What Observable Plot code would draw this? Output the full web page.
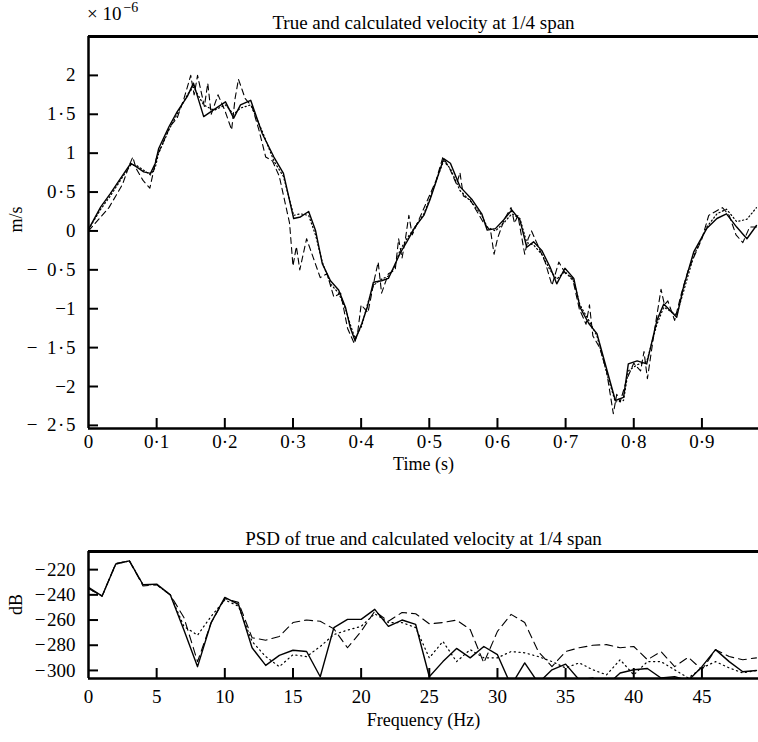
<!DOCTYPE html>
<html><head><meta charset="utf-8">
<script src="https://cdn.jsdelivr.net/npm/d3@7"></script>
<script src="https://cdn.jsdelivr.net/npm/@observablehq/plot@0.6"></script>
<style>
body{margin:0;background:#fff;}
#wrap{position:relative;width:758px;height:742px;overflow:hidden;font-family:"Liberation Serif","DejaVu Serif",serif;color:#000;background:#fff;}
.abs{position:absolute;white-space:nowrap;}
svg{display:block;}
</style></head><body><div id="wrap"></div>
<script>
// ---------- Top panel: velocity (x 1e-6 m/s) ----------
const timeTicks = [0, 0.1, 0.2, 0.3, 0.4, 0.5, 0.6, 0.7, 0.8, 0.9];
const timeTickLabels = ["0", "0·1", "0·2", "0·3", "0·4", "0·5", "0·6", "0·7", "0·8", "0·9"];
const velTicks = [2, 1.5, 1, 0.5, 0, -0.5, -1, -1.5, -2, -2.5];
const velTickLabels = ["2", "1\u200A·\u200A5", "1", "0\u200A·\u200A5", "0", "−\u20020\u200A·\u200A5", "−1", "−\u20021\u200A·\u200A5", "−2", "−\u20022\u200A·\u200A5"];
const timeDomain = [0, 0.983];
const velDomain = [-2.54, 2.5];

const trueT = [0, 0.018, 0.032, 0.052, 0.062, 0.071, 0.081, 0.091, 0.098, 0.103, 0.118, 0.130, 0.145, 0.154, 0.169, 0.184, 0.201, 0.213, 0.223, 0.238, 0.255, 0.272, 0.286, 0.301, 0.311, 0.323, 0.333, 0.343, 0.355, 0.367, 0.377, 0.384, 0.391, 0.401, 0.409, 0.418, 0.430, 0.440, 0.448, 0.457, 0.467, 0.479, 0.492, 0.501, 0.509, 0.521, 0.531, 0.545, 0.563, 0.577, 0.585, 0.597, 0.609, 0.621, 0.633, 0.643, 0.653, 0.665, 0.677, 0.687, 0.699, 0.712, 0.721, 0.734, 0.746, 0.761, 0.773, 0.785, 0.792, 0.805, 0.819, 0.834, 0.844, 0.863, 0.873, 0.888, 0.907, 0.922, 0.936, 0.951, 0.966, 0.980];
const trueV = [0.02, 0.31, 0.48, 0.74, 0.87, 0.82, 0.76, 0.74, 0.87, 1.06, 1.34, 1.53, 1.73, 1.90, 1.47, 1.56, 1.66, 1.45, 1.62, 1.68, 1.25, 0.95, 0.74, 0.16, 0.18, 0.25, 0.01, -0.42, -0.64, -0.76, -0.98, -1.24, -1.41, -1.19, -0.98, -0.66, -0.64, -0.61, -0.46, -0.29, -0.14, 0.05, 0.20, 0.40, 0.61, 0.93, 0.87, 0.57, 0.40, 0.22, 0.01, 0.03, 0.14, 0.27, 0.14, -0.21, -0.14, -0.25, -0.46, -0.68, -0.48, -0.61, -0.98, -1.19, -1.32, -1.80, -2.18, -2.14, -1.71, -1.67, -1.71, -1.15, -0.94, -1.11, -0.72, -0.27, 0.03, 0.16, 0.22, 0.05, -0.10, 0.07];

const calcAT = [0, 0.01, 0.02, 0.03, 0.04, 0.05, 0.06, 0.065, 0.07, 0.08, 0.09, 0.095, 0.10, 0.11, 0.12, 0.13, 0.14, 0.15, 0.155, 0.16, 0.17, 0.175, 0.18, 0.19, 0.20, 0.21, 0.215, 0.22, 0.23, 0.24, 0.25, 0.26, 0.27, 0.28, 0.29, 0.295, 0.30, 0.305, 0.31, 0.315, 0.32, 0.33, 0.34, 0.35, 0.36, 0.37, 0.38, 0.385, 0.39, 0.395, 0.40, 0.41, 0.42, 0.425, 0.43, 0.44, 0.45, 0.455, 0.46, 0.465, 0.47, 0.475, 0.48, 0.49, 0.50, 0.51, 0.52, 0.53, 0.54, 0.545, 0.55, 0.56, 0.57, 0.58, 0.59, 0.595, 0.60, 0.61, 0.62, 0.625, 0.63, 0.64, 0.645, 0.65, 0.66, 0.67, 0.68, 0.69, 0.70, 0.71, 0.72, 0.73, 0.735, 0.74, 0.75, 0.76, 0.77, 0.775, 0.78, 0.79, 0.80, 0.81, 0.815, 0.82, 0.83, 0.84, 0.845, 0.85, 0.86, 0.87, 0.88, 0.89, 0.90, 0.91, 0.92, 0.93, 0.94, 0.95, 0.96, 0.97, 0.98];
const calcAV = [0, 0.1, 0.2, 0.3, 0.45, 0.6, 0.85, 0.95, 0.8, 0.65, 0.55, 0.75, 0.95, 1.15, 1.35, 1.45, 1.7, 2.0, 1.75, 2.0, 1.6, 1.9, 1.5, 1.75, 1.55, 1.3, 1.7, 1.95, 1.7, 1.6, 1.3, 0.95, 0.9, 0.7, 0.3, 0.1, -0.45, -0.2, -0.5, -0.3, -0.1, -0.35, -0.6, -0.55, -0.85, -0.8, -1.25, -1.35, -1.45, -1.3, -0.95, -1.05, -0.6, -0.4, -0.8, -0.55, -0.5, -0.1, -0.35, -0.1, 0.2, -0.05, 0.05, 0.25, 0.45, 0.65, 0.95, 0.8, 0.6, 0.75, 0.45, 0.4, 0.25, 0.1, 0.0, -0.3, -0.1, 0.15, 0.3, 0.1, 0.2, -0.3, -0.1, 0.0, -0.2, -0.4, -0.7, -0.4, -0.55, -0.6, -1.0, -1.2, -0.95, -1.35, -1.5, -1.8, -2.35, -2.1, -2.2, -1.9, -1.7, -1.8, -1.55, -1.9, -1.3, -0.75, -0.95, -0.9, -1.15, -0.8, -0.5, -0.3, -0.1, 0.2, 0.25, 0.3, 0.2, -0.05, -0.15, 0.05, 0.05];

const calcBT = [0, 0.018, 0.032, 0.052, 0.062, 0.071, 0.081, 0.091, 0.098, 0.103, 0.118, 0.130, 0.145, 0.154, 0.169, 0.184, 0.201, 0.213, 0.223, 0.238, 0.255, 0.272, 0.286, 0.301, 0.311, 0.323, 0.333, 0.343, 0.355, 0.367, 0.377, 0.384, 0.391, 0.401, 0.409, 0.418, 0.430, 0.440, 0.448, 0.457, 0.467, 0.479, 0.492, 0.501, 0.509, 0.521, 0.531, 0.545, 0.563, 0.577, 0.585, 0.597, 0.609, 0.621, 0.633, 0.643, 0.653, 0.665, 0.677, 0.687, 0.699, 0.712, 0.721, 0.734, 0.746, 0.761, 0.773, 0.785, 0.792, 0.805, 0.819, 0.834, 0.844, 0.863, 0.873, 0.888, 0.907, 0.922, 0.936, 0.951, 0.966, 0.980];
const calcBV = [0.02, 0.28, 0.45, 0.72, 0.85, 0.84, 0.78, 0.72, 0.82, 1.0, 1.30, 1.50, 1.75, 1.85, 1.62, 1.55, 1.62, 1.50, 1.58, 1.62, 1.28, 0.90, 0.70, 0.20, 0.22, 0.20, -0.05, -0.40, -0.68, -0.80, -1.00, -1.20, -1.38, -1.22, -0.95, -0.70, -0.62, -0.58, -0.48, -0.25, -0.10, 0.05, 0.22, 0.42, 0.62, 0.90, 0.80, 0.52, 0.36, 0.20, 0.05, 0.00, 0.10, 0.22, 0.16, -0.15, -0.18, -0.30, -0.50, -0.62, -0.52, -0.65, -0.95, -1.15, -1.35, -1.85, -2.20, -2.18, -1.80, -1.72, -1.68, -1.20, -0.98, -1.08, -0.78, -0.32, 0.05, 0.22, 0.28, 0.12, 0.15, 0.30];

// ---------- Bottom panel: PSD (dB) ----------
const freqTicks = [0, 5, 10, 15, 20, 25, 30, 35, 40, 45];
const dbTicks = [-220, -240, -260, -280, -300];
const dbTickLabels = ["−\u200A220", "−\u200A240", "−\u200A260", "−\u200A280", "−\u200A300"];
const freqDomain = [0, 49.15];
const dbDomain = [-306.4, -205.6];
const freqHz = [0,1,2,3,4,5,6,7,8,9,10,11,12,13,14,15,16,17,18,19,20,21,22,23,24,25,26,27,28,29,30,31,32,33,34,35,36,37,38,39,40,41,42,43,44,45,46,47,48,49];
const psdTrue = [-234, -241, -215.5, -213, -232, -231.5, -240, -268, -297, -262, -242, -247.5, -282, -296, -288, -284, -285, -305, -266, -259.5, -259.5, -251.5, -265, -260, -263.5, -305, -293, -282.5, -290, -281, -287.5, -312, -294, -310, -299.5, -295, -307.5, -306, -312, -302, -299.5, -298.5, -306, -305, -308, -297, -283.5, -293, -301, -300];
const psdCalcA = [-235, -241, -215, -213, -233, -232, -240, -258, -293, -262, -243, -246, -274, -276, -273, -262, -260, -261, -267, -282, -269, -253, -261, -254, -255, -263, -262, -260, -267.5, -294, -269, -255.5, -262, -285, -297, -285, -282, -280, -279.5, -282, -281, -291.5, -285, -297, -289.5, -299.5, -283.5, -289, -291.5, -290];
const psdCalcB = [-235, -241, -215.5, -213, -232, -232, -240, -265, -272, -257, -244, -249, -277, -289, -297, -287.5, -289, -281, -271.5, -268, -265, -255, -262, -262, -266, -290, -277, -293, -283.5, -290, -290, -285, -286, -289, -293, -298, -294, -299.5, -303.5, -291.5, -303.5, -293, -293, -299.5, -306, -298, -293, -298, -302, -300];

const FONT = '"Liberation Serif", "DejaVu Serif", serif';
const TICK_FS = 19, LABEL_FS = 18, TITLE_FS = 19;
const wrap = document.getElementById("wrap");

function rows(xs, ys) { return xs.map((x, i) => ({x, y: ys[i]})); }

// Top plot
const W = 758, TOP_H = 475, TOP_ML = 88, TOP_MT = 36, TOP_MB = 47;
const topPlotH = TOP_H - TOP_MT - TOP_MB;
const topPlotW = W - TOP_ML;
const topChart = Plot.plot({
  width: W, height: TOP_H,
  marginLeft: TOP_ML, marginRight: 0, marginTop: TOP_MT, marginBottom: TOP_MB,
  style: {fontFamily: FONT, fontSize: TICK_FS + "px", background: "white", color: "black", overflow: "visible"},
  x: {domain: timeDomain, label: null},
  y: {domain: velDomain, label: null},
  marks: [
    Plot.line(rows(calcBT, calcBV), {x: "x", y: "y", stroke: "black", strokeWidth: 1.2, strokeDasharray: "1.2,2.6", clip: true}),
    Plot.line(rows(calcAT, calcAV), {x: "x", y: "y", stroke: "black", strokeWidth: 1.1, strokeDasharray: "6,4", clip: true}),
    Plot.line(rows(trueT, trueV), {x: "x", y: "y", stroke: "black", strokeWidth: 1.4, clip: true}),
    Plot.tickY(velTicks, {y: d => d, stroke: "black", strokeWidth: 2, insetRight: topPlotW - 10}),
    Plot.tickX(timeTicks.slice(1), {x: d => d, stroke: "black", strokeWidth: 2, insetTop: topPlotH - 10}),
    Plot.ruleX([timeDomain[0]], {stroke: "black", strokeWidth: 2.5}),
    Plot.ruleY([velDomain[0]], {stroke: "black", strokeWidth: 2.5}),
    Plot.ruleY([velDomain[1]], {stroke: "black", strokeWidth: 2.8}),
    Plot.axisY(velTicks, {tickSize: 0, tickPadding: 13, label: null, fontSize: TICK_FS, tickFormat: d => velTickLabels[velTicks.indexOf(d)]}),
    Plot.axisX(timeTicks, {tickSize: 0, tickPadding: 6, label: null, fontSize: TICK_FS, tickFormat: d => timeTickLabels[timeTicks.indexOf(d)]}),
    Plot.text(["True and calculated velocity at 1/4 span"], {frameAnchor: "top", dy: -21, fontSize: TITLE_FS}),
    Plot.text(["Time (s)"], {frameAnchor: "bottom", dy: 41, fontSize: LABEL_FS}),
    Plot.text(["m/s"], {frameAnchor: "left", dx: -72, rotate: -90, fontSize: LABEL_FS})
  ]
});
topChart.style.position = "absolute";
topChart.style.left = "0px";
topChart.style.top = "0px";
wrap.appendChild(topChart);

// Multiplier label
const mult = document.createElement("div");
mult.className = "abs";
mult.style.left = "87px";
mult.style.top = "3px";
mult.style.fontSize = "19px";
mult.innerHTML = '× 10<span style="font-size:14px;position:relative;top:-8px;margin-left:2px">−6</span>';
wrap.appendChild(mult);

// Bottom plot
const BOT_TOP = 500, BOT_H = 242, BOT_MT = 51, BOT_MB = 64;
const botPlotH = BOT_H - BOT_MT - BOT_MB;
const botChart = Plot.plot({
  width: W, height: BOT_H,
  marginLeft: TOP_ML, marginRight: 0, marginTop: BOT_MT, marginBottom: BOT_MB,
  style: {fontFamily: FONT, fontSize: TICK_FS + "px", background: "white", color: "black", overflow: "visible"},
  x: {domain: freqDomain, label: null},
  y: {domain: dbDomain, label: null},
  marks: [
    Plot.line(rows(freqHz, psdCalcB), {x: "x", y: "y", stroke: "black", strokeWidth: 1.2, strokeDasharray: "1.2,3.5", clip: true}),
    Plot.line(rows(freqHz, psdCalcA), {x: "x", y: "y", stroke: "black", strokeWidth: 1.1, strokeDasharray: "8,5", clip: true}),
    Plot.line(rows(freqHz, psdTrue), {x: "x", y: "y", stroke: "black", strokeWidth: 1.4, clip: true}),
    Plot.tickY(dbTicks, {y: d => d, stroke: "black", strokeWidth: 2, insetRight: topPlotW - 10}),
    Plot.tickX(freqTicks.slice(1), {x: d => d, stroke: "black", strokeWidth: 2, insetTop: botPlotH - 10}),
    Plot.ruleX([freqDomain[0]], {stroke: "black", strokeWidth: 2.5}),
    Plot.ruleY([dbDomain[0]], {stroke: "black", strokeWidth: 2.5}),
    Plot.ruleY([dbDomain[1]], {stroke: "black", strokeWidth: 2.8}),
    Plot.axisY(dbTicks, {tickSize: 0, tickPadding: 13, label: null, fontSize: TICK_FS, tickFormat: d => dbTickLabels[dbTicks.indexOf(d)]}),
    Plot.axisX(freqTicks, {tickSize: 0, tickPadding: 11, label: null, fontSize: TICK_FS}),
    Plot.text(["PSD of true and calculated velocity at 1/4 span"], {frameAnchor: "top", dy: -20, fontSize: TITLE_FS}),
    Plot.text(["Frequency (Hz)"], {frameAnchor: "bottom", dy: 47, fontSize: LABEL_FS}),
    Plot.text(["dB"], {frameAnchor: "left", dx: -72, rotate: -90, fontSize: LABEL_FS})
  ]
});
botChart.style.position = "absolute";
botChart.style.left = "0px";
botChart.style.top = BOT_TOP + "px";
wrap.appendChild(botChart);
</script></body></html>
